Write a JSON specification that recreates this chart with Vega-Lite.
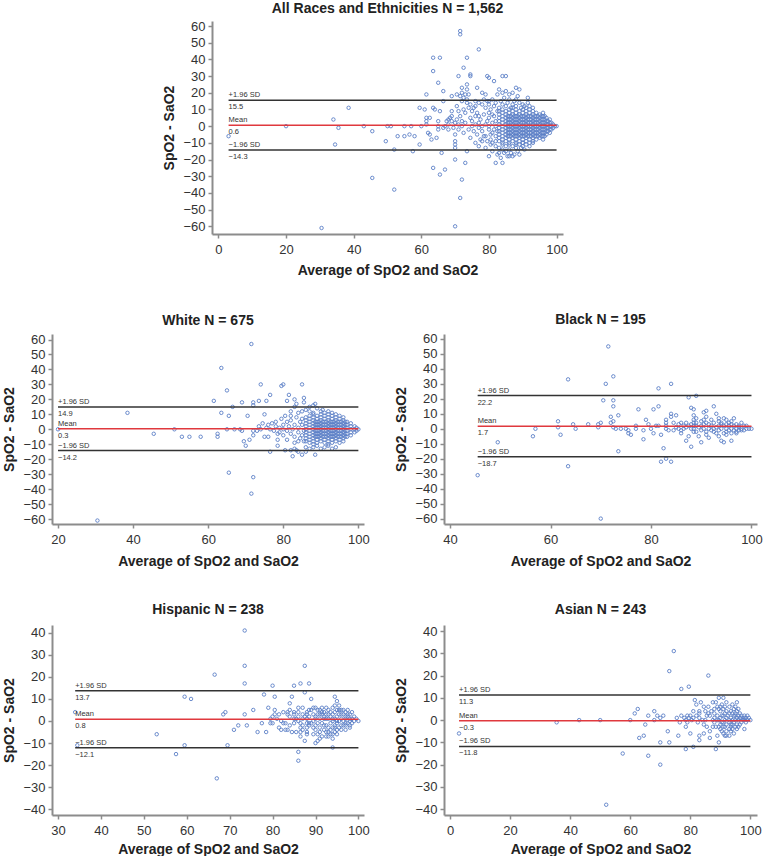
{
"$schema":"https://vega.github.io/schema/vega-lite/v6.json",
"padding":{"left":2,"right":0,"top":2,"bottom":0},
"spacing":35,
"config":{
 "font":"Liberation Sans",
 "view":{"stroke":null},
 "axis":{"grid":false,"domainColor":"#8c8c8c","domainWidth":2,"tickColor":"#8c8c8c","tickWidth":1.5,"tickSize":4,"labelFontSize":13,"labelColor":"#333333","labelPadding":3,"titleFontSize":14,"titleFontWeight":"bold","titleColor":"#222222"},
 "axisX":{"titlePadding":5,"labelPadding":5},
 "axisY":{"titlePadding":6},
 "title":{"fontSize":14,"fontWeight":"bold","color":"#222222","offset":6}
},
"datasets":{
"s_all":[{"t":"sd","lab":"+1.96 SD","x":3,"x1":100,"y":15.5},{"t":"mean","lab":"Mean","x":3,"x1":100,"y":0.6},{"t":"sd","lab":"−1.96 SD","x":3,"x1":100,"y":-14.3}],
"s_white":[{"t":"sd","lab":"+1.96 SD","x":20,"x1":100,"y":14.9},{"t":"mean","lab":"Mean","x":20,"x1":100,"y":0.3},{"t":"sd","lab":"−1.96 SD","x":20,"x1":100,"y":-14.2}],
"s_black":[{"t":"sd","lab":"+1.96 SD","x":45.5,"x1":100,"y":22.2},{"t":"mean","lab":"Mean","x":45.5,"x1":100,"y":1.7},{"t":"sd","lab":"−1.96 SD","x":45.5,"x1":100,"y":-18.7}],
"s_hisp":[{"t":"sd","lab":"+1.96 SD","x":34,"x1":100,"y":13.7},{"t":"mean","lab":"Mean","x":34,"x1":100,"y":0.8},{"t":"sd","lab":"−1.96 SD","x":34,"x1":100,"y":-12.1}],
"s_asian":[{"t":"sd","lab":"+1.96 SD","x":3,"x1":100,"y":11.3},{"t":"mean","lab":"Mean","x":3,"x1":100,"y":-0.3},{"t":"sd","lab":"−1.96 SD","x":3,"x1":100,"y":-11.8}],
"all":[
{"x":3,"y":-6},{"x":20,"y":0},{"x":30.5,"y":-61},{"x":34,"y":4},{"x":34.5,"y":-11},{"x":35.5,"y":-1},{"x":38.5,"y":11},{"x":43,"y":0},{"x":45.5,"y":-3},{"x":45.5,"y":-31},{"x":49.5,"y":-9},{"x":50,"y":0},{"x":51,"y":0},{"x":52,"y":-14},{"x":52,"y":-38},{"x":53,"y":-6},{"x":55,"y":0},{"x":55,"y":-6},{"x":56.5,"y":-5},{"x":57,"y":0},{"x":57.5,"y":-15},{"x":58,"y":-6},{"x":59.5,"y":11},{"x":59.5,"y":-11},{"x":60,"y":0},{"x":61,"y":10},{"x":61.5,"y":19},{"x":61.5,"y":5},{"x":61.5,"y":3},{"x":61.5,"y":1},{"x":62.5,"y":5},{"x":62,"y":-4},{"x":62.5,"y":-5},{"x":63,"y":-8},{"x":63.5,"y":41},{"x":63.5,"y":33},{"x":63.5,"y":11},{"x":64,"y":10},{"x":63.5,"y":-25},{"x":65,"y":26},{"x":65.5,"y":41},{"x":65.5,"y":9},{"x":65,"y":3},{"x":65,"y":0},{"x":65,"y":-2},{"x":64.5,"y":-7},{"x":65.5,"y":-29},{"x":66,"y":-16},{"x":66.5,"y":21},{"x":66.5,"y":15},{"x":67,"y":-26},{"x":69,"y":18},{"x":70.5,"y":19},{"x":71,"y":30},{"x":70,"y":-9},{"x":70,"y":-11},{"x":70,"y":-13},{"x":70,"y":-20},{"x":70,"y":-60},{"x":71.5,"y":57},{"x":71.5,"y":55},{"x":71.5,"y":-43},{"x":72,"y":-32},{"x":72.5,"y":35},{"x":73,"y":-22},{"x":73.5,"y":41},{"x":73.5,"y":-15},{"x":74.5,"y":30},{"x":74.5,"y":31},{"x":77,"y":46},{"x":76.5,"y":23},{"x":80,"y":29},{"x":79.5,"y":30},{"x":80,"y":-18},{"x":81.5,"y":27},{"x":84,"y":30},{"x":85,"y":30},{"x":82,"y":-22},{"x":84,"y":-22},{"x":86,"y":-18},{"x":88,"y":23},{"x":89,"y":22},{"x":91.5,"y":17},{"x":89,"y":-17},
{"x":67,"y":0},{"x":67.5,"y":3},{"x":68,"y":1},{"x":68.5,"y":5},{"x":69,"y":3},{"x":69,"y":6},{"x":69.5,"y":-1},{"x":70,"y":2},{"x":70.5,"y":4},{"x":71,"y":-2},{"x":71,"y":1},{"x":71.5,"y":6},{"x":72,"y":0},{"x":72,"y":3},{"x":68,"y":-2},{"x":66.5,"y":-1},{"x":70,"y":-5},{"x":72.5,"y":-4},{"x":73,"y":2},{"x":73,"y":8},{"x":72.5,"y":10},{"x":73.5,"y":14},{"x":72.5,"y":17},{"x":73,"y":19},{"x":73.5,"y":16},{"x":74,"y":11},{"x":74.5,"y":5},{"x":74,"y":-2},{"x":74.5,"y":-7},{"x":75,"y":0},{"x":75,"y":3},{"x":75.5,"y":-3},{"x":76,"y":1},{"x":76,"y":6},{"x":76.5,"y":-5},{"x":77,"y":2},{"x":77,"y":-1},{"x":77.5,"y":4},{"x":78,"y":0},{"x":78,"y":-3},{"x":78.5,"y":7},{"x":79,"y":1},{"x":79,"y":-6},{"x":79.5,"y":3},{"x":80,"y":0},{"x":80,"y":5},{"x":80,"y":-2},{"x":80.5,"y":-8},{"x":81,"y":2},{"x":81,"y":-4},{"x":81.5,"y":6},{"x":82,"y":0},{"x":82,"y":-6},{"x":82,"y":3},{"x":82.5,"y":9},{"x":76,"y":-10},{"x":77,"y":-12},{"x":78,"y":-9},{"x":79,"y":-13},{"x":80.5,"y":-11},{"x":81,"y":-15},{"x":82,"y":-12},{"x":82.5,"y":-17},{"x":83,"y":-13},{"x":83.5,"y":-19},{"x":84,"y":-14},{"x":84.5,"y":-16},{"x":85,"y":-12},{"x":85.5,"y":-18},{"x":86,"y":-14},{"x":86.5,"y":-16},{"x":87,"y":-12},{"x":87.5,"y":-17},{"x":88,"y":-13},{"x":88.5,"y":-15},{"x":89,"y":-11},{"x":89.5,"y":-13},{"x":90,"y":-12},{"x":90.5,"y":-14},{"x":91,"y":-11},{"x":92,"y":-12},{"x":93,"y":-10},{"x":84,"y":-11},{"x":86,"y":-11},{"x":88,"y":-11},{"x":90,"y":-10},{"x":87,"y":-18},{"x":85,"y":-15},{"x":83,"y":-16},
{"x":75,"y":9},{"x":76,"y":12},{"x":77,"y":14},{"x":78,"y":13},{"x":78.5,"y":16},{"x":79,"y":11},{"x":79.5,"y":15},{"x":80,"y":13},{"x":80.5,"y":10},{"x":81,"y":16},{"x":81.5,"y":12},{"x":82,"y":14},{"x":82.5,"y":19},{"x":83,"y":11},{"x":83.5,"y":15},{"x":84,"y":13},{"x":84.5,"y":17},{"x":85,"y":12},{"x":85.5,"y":14},{"x":86,"y":16},{"x":86.5,"y":11},{"x":87,"y":13},{"x":87.5,"y":15},{"x":88,"y":12},{"x":88.5,"y":18},{"x":89,"y":14},{"x":89.5,"y":11},{"x":90,"y":13},{"x":90.5,"y":12},{"x":91,"y":11},{"x":91.5,"y":14},{"x":92,"y":12},{"x":93,"y":11},{"x":87,"y":20},{"x":86,"y":19},{"x":85,"y":21},{"x":84,"y":20},{"x":88,"y":16},{"x":79,"y":19},{"x":78,"y":20},{"x":83,"y":22},{"x":80,"y":15},{"x":74,"y":19},{"x":74.5,"y":13},{"x":73.5,"y":22},{"x":72,"y":15},{"x":71,"y":9},{"x":70.5,"y":12},{"x":69,"y":9},{"x":68,"y":4},{"x":72,"y":20},{"x":72,"y":23},{"x":71.5,"y":18},{"x":73.5,"y":25},{"x":76,"y":15},{"x":75.5,"y":11},{"x":80,"y":8},{"x":80.5,"y":-5},{"x":81,"y":7},{"x":81.5,"y":-2},{"x":82,"y":-9},{"x":82.5,"y":-3},{"x":81,"y":-10},{"x":79.5,"y":-9},{"x":78.5,"y":-6},{"x":77.5,"y":-8},{"x":76.5,"y":8},{"x":77,"y":6},
{"x":83,"y":-9},{"x":83,"y":-7},{"x":83,"y":-5},{"x":83,"y":-3},{"x":83,"y":-1},{"x":83,"y":1},{"x":83,"y":3},{"x":83,"y":5},{"x":83,"y":7},{"x":83,"y":9},
{"x":84,"y":-10},{"x":84,"y":-8},{"x":84,"y":-6},{"x":84,"y":-4},{"x":84,"y":-2},{"x":84,"y":0},{"x":84,"y":2},{"x":84,"y":4},{"x":84,"y":6},{"x":84,"y":8},{"x":84,"y":10},
{"x":85,"y":-9},{"x":85,"y":-7},{"x":85,"y":-5},{"x":85,"y":-3},{"x":85,"y":-1},{"x":85,"y":1},{"x":85,"y":3},{"x":85,"y":5},{"x":85,"y":7},{"x":85,"y":9},
{"x":86,"y":-10},{"x":86,"y":-8},{"x":86,"y":-6},{"x":86,"y":-4},{"x":86,"y":-2},{"x":86,"y":0},{"x":86,"y":2},{"x":86,"y":4},{"x":86,"y":6},{"x":86,"y":8},{"x":86,"y":10},
{"x":87,"y":-9},{"x":87,"y":-7},{"x":87,"y":-5},{"x":87,"y":-3},{"x":87,"y":-1},{"x":87,"y":1},{"x":87,"y":3},{"x":87,"y":5},{"x":87,"y":7},{"x":87,"y":9},{"x":87,"y":11},
{"x":88,"y":-10},{"x":88,"y":-8},{"x":88,"y":-6},{"x":88,"y":-4},{"x":88,"y":-2},{"x":88,"y":0},{"x":88,"y":2},{"x":88,"y":4},{"x":88,"y":6},{"x":88,"y":8},{"x":88,"y":10},
{"x":89,"y":-9},{"x":89,"y":-7},{"x":89,"y":-5},{"x":89,"y":-3},{"x":89,"y":-1},{"x":89,"y":1},{"x":89,"y":3},{"x":89,"y":5},{"x":89,"y":7},{"x":89,"y":9},
{"x":90,"y":-10},{"x":90,"y":-8},{"x":90,"y":-6},{"x":90,"y":-4},{"x":90,"y":-2},{"x":90,"y":0},{"x":90,"y":2},{"x":90,"y":4},{"x":90,"y":6},{"x":90,"y":8},{"x":90,"y":10},
{"x":91,"y":-9},{"x":91,"y":-7},{"x":91,"y":-5},{"x":91,"y":-3},{"x":91,"y":-1},{"x":91,"y":1},{"x":91,"y":3},{"x":91,"y":5},{"x":91,"y":7},{"x":91,"y":9},
{"x":92,"y":-10},{"x":92,"y":-8},{"x":92,"y":-6},{"x":92,"y":-4},{"x":92,"y":-2},{"x":92,"y":0},{"x":92,"y":2},{"x":92,"y":4},{"x":92,"y":6},{"x":92,"y":8},{"x":92,"y":10},
{"x":93,"y":-9},{"x":93,"y":-7},{"x":93,"y":-5},{"x":93,"y":-3},{"x":93,"y":-1},{"x":93,"y":1},{"x":93,"y":3},{"x":93,"y":5},{"x":93,"y":7},{"x":93,"y":9},
{"x":94,"y":-8},{"x":94,"y":-6},{"x":94,"y":-4},{"x":94,"y":-2},{"x":94,"y":0},{"x":94,"y":2},{"x":94,"y":4},{"x":94,"y":6},{"x":94,"y":8},
{"x":95,"y":-7},{"x":95,"y":-5},{"x":95,"y":-3},{"x":95,"y":-1},{"x":95,"y":1},{"x":95,"y":3},{"x":95,"y":5},{"x":95,"y":7},
{"x":96,"y":-8},{"x":96,"y":-6},{"x":96,"y":-4},{"x":96,"y":-2},{"x":96,"y":0},{"x":96,"y":2},{"x":96,"y":4},{"x":96,"y":6},{"x":96,"y":8},
{"x":97,"y":-5},{"x":97,"y":-3},{"x":97,"y":-1},{"x":97,"y":1},{"x":97,"y":3},{"x":97,"y":5},
{"x":98,"y":-4},{"x":98,"y":-2},{"x":98,"y":0},{"x":98,"y":2},{"x":98,"y":4},
{"x":99,"y":-1},{"x":99,"y":1},{"x":99.5,"y":0},{"x":100,"y":0},
{"x":85.5,"y":-6},{"x":85.5,"y":-4},{"x":85.5,"y":-2},{"x":85.5,"y":0},{"x":85.5,"y":2},{"x":85.5,"y":4},{"x":85.5,"y":6},
{"x":86.5,"y":-6},{"x":86.5,"y":-4},{"x":86.5,"y":-2},{"x":86.5,"y":0},{"x":86.5,"y":2},{"x":86.5,"y":4},{"x":86.5,"y":6},
{"x":87.5,"y":-6},{"x":87.5,"y":-4},{"x":87.5,"y":-2},{"x":87.5,"y":0},{"x":87.5,"y":2},{"x":87.5,"y":4},{"x":87.5,"y":6},
{"x":88.5,"y":-6},{"x":88.5,"y":-4},{"x":88.5,"y":-2},{"x":88.5,"y":0},{"x":88.5,"y":2},{"x":88.5,"y":4},{"x":88.5,"y":6},
{"x":89.5,"y":-6},{"x":89.5,"y":-4},{"x":89.5,"y":-2},{"x":89.5,"y":0},{"x":89.5,"y":2},{"x":89.5,"y":4},{"x":89.5,"y":6},
{"x":90.5,"y":-6},{"x":90.5,"y":-4},{"x":90.5,"y":-2},{"x":90.5,"y":0},{"x":90.5,"y":2},{"x":90.5,"y":4},{"x":90.5,"y":6},
{"x":91.5,"y":-6},{"x":91.5,"y":-4},{"x":91.5,"y":-2},{"x":91.5,"y":0},{"x":91.5,"y":2},{"x":91.5,"y":4},{"x":91.5,"y":6},
{"x":92.5,"y":-6},{"x":92.5,"y":-4},{"x":92.5,"y":-2},{"x":92.5,"y":0},{"x":92.5,"y":2},{"x":92.5,"y":4},{"x":92.5,"y":6},
{"x":93.5,"y":-6},{"x":93.5,"y":-4},{"x":93.5,"y":-2},{"x":93.5,"y":0},{"x":93.5,"y":2},{"x":93.5,"y":4},{"x":93.5,"y":6},
{"x":94.5,"y":-6},{"x":94.5,"y":-4},{"x":94.5,"y":-2},{"x":94.5,"y":0},{"x":94.5,"y":2},{"x":94.5,"y":4},{"x":94.5,"y":6},
{"x":95.5,"y":-6},{"x":95.5,"y":-4},{"x":95.5,"y":-2},{"x":95.5,"y":0},{"x":95.5,"y":2},{"x":95.5,"y":4},{"x":95.5,"y":6},
{"x":96.5,"y":-6},{"x":96.5,"y":-4},{"x":96.5,"y":-2},{"x":96.5,"y":0},{"x":96.5,"y":2},{"x":96.5,"y":4},{"x":96.5,"y":6},
{"x":97.5,"y":-3},{"x":97.5,"y":-1},{"x":97.5,"y":1},{"x":97.5,"y":3},{"x":98.5,"y":-2},{"x":98.5,"y":0},{"x":98.5,"y":2}
],
"white":[
{"x":20,"y":0},{"x":30.5,"y":-61},{"x":38.5,"y":11},{"x":45.5,"y":-3},{"x":51,"y":0},{"x":53,"y":-5},{"x":55,"y":-5},{"x":58,"y":-5},{"x":61.5,"y":19},{"x":62.5,"y":-3},{"x":62.5,"y":-5},{"x":63.5,"y":41},{"x":63.5,"y":11},{"x":65,"y":26},{"x":65,"y":0},{"x":65.5,"y":9},{"x":65.5,"y":-29},{"x":66.5,"y":15},{"x":67,"y":0},{"x":69,"y":18},{"x":68.5,"y":0},{"x":69,"y":-1},{"x":69.5,"y":-8},{"x":70,"y":-11},{"x":71,"y":-7},{"x":70.5,"y":9},{"x":71.5,"y":57},{"x":71.5,"y":-43},{"x":72,"y":-32},{"x":72,"y":16},{"x":72,"y":18},{"x":72,"y":-1},{"x":72,"y":-4},{"x":74,"y":30},{"x":73.5,"y":19},{"x":75,"y":10},{"x":75.5,"y":19},{"x":76.5,"y":23},{"x":76.5,"y":-15},{"x":78.5,"y":-7},{"x":78.5,"y":-11},{"x":79.5,"y":29},{"x":80,"y":30},{"x":85,"y":30},{"x":85,"y":-17},{"x":82.5,"y":-18},{"x":81.5,"y":23},{"x":81,"y":19},{"x":83,"y":20},{"x":83.5,"y":17},{"x":85.5,"y":21},{"x":85.5,"y":18},{"x":88.5,"y":17},{"x":88.5,"y":-17},{"x":90.5,"y":13},{"x":80.5,"y":-14},{"x":83.5,"y":-14},
{"x":73,"y":-1},{"x":73.5,"y":2},{"x":74,"y":0},{"x":74.5,"y":4},{"x":75,"y":-5},{"x":75.5,"y":1},{"x":76,"y":3},{"x":76,"y":-5},{"x":76.5,"y":0},{"x":77,"y":4},{"x":77.5,"y":-1},{"x":78,"y":2},{"x":78,"y":5},{"x":78.5,"y":-3},{"x":79,"y":1},{"x":79,"y":-2},{"x":79.5,"y":7},{"x":80,"y":0},{"x":80,"y":3},{"x":80,"y":-4},{"x":80.5,"y":9},{"x":81,"y":5},{"x":81,"y":-1},{"x":81.5,"y":2},{"x":82,"y":-3},{"x":82,"y":6},{"x":82.5,"y":0},{"x":83,"y":3},{"x":83,"y":-5},{"x":83.5,"y":8},{"x":84,"y":1},{"x":84,"y":-2},{"x":84.5,"y":5},{"x":85,"y":-4},{"x":85,"y":12},{"x":85.5,"y":-1},{"x":82,"y":12},{"x":83,"y":15},{"x":84,"y":11},{"x":86,"y":13},{"x":87,"y":12},{"x":88,"y":11},{"x":89,"y":14},{"x":86,"y":-12},{"x":87,"y":-13},{"x":88,"y":-12},{"x":89,"y":-11},{"x":90,"y":-13},{"x":91,"y":-12},{"x":92,"y":-11},{"x":93,"y":-13},{"x":94,"y":-12},{"x":90,"y":12},{"x":91,"y":11},{"x":92,"y":12},{"x":93,"y":11},{"x":94,"y":10},{"x":87,"y":15},{"x":88,"y":16},{"x":86,"y":-15},{"x":84,"y":-15},{"x":83,"y":-13},{"x":82,"y":-14},{"x":84,"y":-8},{"x":84.5,"y":-6},{"x":85,"y":7},{"x":85,"y":3},{"x":85.5,"y":-8},{"x":83,"y":-9},{"x":82,"y":9},{"x":81,"y":-7},
{"x":86,"y":-8},{"x":86,"y":-6},{"x":86,"y":-4},{"x":86,"y":-2},{"x":86,"y":0},{"x":86,"y":2},{"x":86,"y":4},{"x":86,"y":6},{"x":86,"y":8},
{"x":87,"y":-9},{"x":87,"y":-7},{"x":87,"y":-5},{"x":87,"y":-3},{"x":87,"y":-1},{"x":87,"y":1},{"x":87,"y":3},{"x":87,"y":5},{"x":87,"y":7},{"x":87,"y":9},
{"x":88,"y":-10},{"x":88,"y":-8},{"x":88,"y":-6},{"x":88,"y":-4},{"x":88,"y":-2},{"x":88,"y":0},{"x":88,"y":2},{"x":88,"y":4},{"x":88,"y":6},{"x":88,"y":8},{"x":88,"y":10},
{"x":89,"y":-9},{"x":89,"y":-7},{"x":89,"y":-5},{"x":89,"y":-3},{"x":89,"y":-1},{"x":89,"y":1},{"x":89,"y":3},{"x":89,"y":5},{"x":89,"y":7},{"x":89,"y":9},
{"x":90,"y":-8},{"x":90,"y":-6},{"x":90,"y":-4},{"x":90,"y":-2},{"x":90,"y":0},{"x":90,"y":2},{"x":90,"y":4},{"x":90,"y":6},{"x":90,"y":8},{"x":90,"y":10},
{"x":91,"y":-9},{"x":91,"y":-7},{"x":91,"y":-5},{"x":91,"y":-3},{"x":91,"y":-1},{"x":91,"y":1},{"x":91,"y":3},{"x":91,"y":5},{"x":91,"y":7},{"x":91,"y":9},
{"x":92,"y":-10},{"x":92,"y":-8},{"x":92,"y":-6},{"x":92,"y":-4},{"x":92,"y":-2},{"x":92,"y":0},{"x":92,"y":2},{"x":92,"y":4},{"x":92,"y":6},{"x":92,"y":8},{"x":92,"y":10},
{"x":93,"y":-9},{"x":93,"y":-7},{"x":93,"y":-5},{"x":93,"y":-3},{"x":93,"y":-1},{"x":93,"y":1},{"x":93,"y":3},{"x":93,"y":5},{"x":93,"y":7},{"x":93,"y":9},
{"x":94,"y":-8},{"x":94,"y":-6},{"x":94,"y":-4},{"x":94,"y":-2},{"x":94,"y":0},{"x":94,"y":2},{"x":94,"y":4},{"x":94,"y":6},{"x":94,"y":8},
{"x":95,"y":-9},{"x":95,"y":-7},{"x":95,"y":-5},{"x":95,"y":-3},{"x":95,"y":-1},{"x":95,"y":1},{"x":95,"y":3},{"x":95,"y":5},{"x":95,"y":7},{"x":95,"y":9},
{"x":96,"y":-8},{"x":96,"y":-6},{"x":96,"y":-4},{"x":96,"y":-2},{"x":96,"y":0},{"x":96,"y":2},{"x":96,"y":4},{"x":96,"y":6},{"x":96,"y":8},
{"x":97,"y":-5},{"x":97,"y":-3},{"x":97,"y":-1},{"x":97,"y":1},{"x":97,"y":3},{"x":97,"y":5},
{"x":98,"y":-4},{"x":98,"y":-2},{"x":98,"y":0},{"x":98,"y":2},{"x":98,"y":4},
{"x":99,"y":-2},{"x":99,"y":0},{"x":99,"y":2},{"x":99.5,"y":-1},{"x":99.5,"y":1},{"x":100,"y":0},
{"x":88.5,"y":-5},{"x":88.5,"y":-3},{"x":88.5,"y":-1},{"x":88.5,"y":1},{"x":88.5,"y":3},{"x":88.5,"y":5},
{"x":89.5,"y":-5},{"x":89.5,"y":-3},{"x":89.5,"y":-1},{"x":89.5,"y":1},{"x":89.5,"y":3},{"x":89.5,"y":5},
{"x":90.5,"y":-5},{"x":90.5,"y":-3},{"x":90.5,"y":-1},{"x":90.5,"y":1},{"x":90.5,"y":3},{"x":90.5,"y":5},
{"x":91.5,"y":-5},{"x":91.5,"y":-3},{"x":91.5,"y":-1},{"x":91.5,"y":1},{"x":91.5,"y":3},{"x":91.5,"y":5},
{"x":92.5,"y":-5},{"x":92.5,"y":-3},{"x":92.5,"y":-1},{"x":92.5,"y":1},{"x":92.5,"y":3},{"x":92.5,"y":5},
{"x":93.5,"y":-5},{"x":93.5,"y":-3},{"x":93.5,"y":-1},{"x":93.5,"y":1},{"x":93.5,"y":3},{"x":93.5,"y":5},
{"x":94.5,"y":-5},{"x":94.5,"y":-3},{"x":94.5,"y":-1},{"x":94.5,"y":1},{"x":94.5,"y":3},{"x":94.5,"y":5},
{"x":95.5,"y":-5},{"x":95.5,"y":-3},{"x":95.5,"y":-1},{"x":95.5,"y":1},{"x":95.5,"y":3},{"x":95.5,"y":5},
{"x":96.5,"y":-5},{"x":96.5,"y":-3},{"x":96.5,"y":-1},{"x":96.5,"y":1},{"x":96.5,"y":3},{"x":96.5,"y":5}
],
"black":[
{"x":45.5,"y":-31},{"x":49.5,"y":-9},{"x":56.5,"y":-5},{"x":57,"y":0},{"x":61.5,"y":5},{"x":61.5,"y":1},{"x":62,"y":-4},{"x":63.5,"y":33},{"x":63.5,"y":-25},{"x":64.5,"y":3},{"x":65,"y":0},{"x":67.5,"y":3},{"x":69.5,"y":1},{"x":69.5,"y":3},{"x":70,"y":4},{"x":70,"y":-60},{"x":70.5,"y":19},{"x":71,"y":30},{"x":71.5,"y":55},{"x":72,"y":8},{"x":72,"y":4},{"x":72.5,"y":35},{"x":72.5,"y":19},{"x":72.5,"y":15},{"x":72.5,"y":5},{"x":72.5,"y":1},{"x":73,"y":0},{"x":73.5,"y":9},{"x":73.5,"y":-15},{"x":74,"y":0},{"x":75,"y":0},{"x":75.5,"y":-1},{"x":75.5,"y":-3},{"x":76,"y":-4},{"x":77,"y":2},{"x":77,"y":0},{"x":77.5,"y":13},{"x":78.5,"y":-7},{"x":78.5,"y":-1},{"x":79,"y":6},{"x":79.5,"y":3},{"x":80,"y":0},{"x":80.5,"y":13},{"x":80.5,"y":-3},{"x":81,"y":2},{"x":81.5,"y":27},{"x":81.5,"y":15},{"x":81.5,"y":2},{"x":82,"y":-4},{"x":82,"y":-22},{"x":82.5,"y":-13},{"x":83,"y":6},{"x":83,"y":4},{"x":83,"y":2},{"x":83,"y":0},{"x":83,"y":-20},{"x":83.5,"y":-1},{"x":84,"y":30},{"x":84,"y":10},{"x":84,"y":8},{"x":84,"y":-22},{"x":84.5,"y":4},{"x":84.5,"y":-1},{"x":85,"y":9},{"x":85.5,"y":0},{"x":86,"y":4},{"x":86.5,"y":2},{"x":86.5,"y":0},{"x":87,"y":4},{"x":87,"y":-8},{"x":87.5,"y":21},{"x":87.5,"y":-5},{"x":88,"y":14},{"x":88,"y":0},{"x":88,"y":-12},{"x":88.5,"y":13},{"x":88.5,"y":9},{"x":88.5,"y":6},{"x":88.5,"y":4},{"x":88.5,"y":2},{"x":88.5,"y":0},{"x":88.5,"y":-2},{"x":89,"y":22},{"x":89,"y":7},{"x":89,"y":4},{"x":89,"y":2},{"x":89.5,"y":-5},{"x":90,"y":-9},{"x":90,"y":2},{"x":90.5,"y":11},{"x":90.5,"y":6},{"x":90.5,"y":3},{"x":90.5,"y":0},{"x":91,"y":12},{"x":91,"y":8},{"x":91,"y":4},{"x":91,"y":-2},{"x":91,"y":-4},{"x":91.5,"y":0},{"x":92,"y":2},{"x":92.5,"y":15},{"x":92.5,"y":4},{"x":92.5,"y":0},{"x":92.5,"y":-2},{"x":93,"y":10},{"x":93.5,"y":5},{"x":93.5,"y":2},{"x":93.5,"y":-1},{"x":93.5,"y":-5},{"x":94,"y":3},{"x":94,"y":0},{"x":94,"y":-8},{"x":94.5,"y":7},{"x":94.5,"y":2},{"x":94.5,"y":-3},{"x":94.5,"y":-9},{"x":95,"y":6},{"x":95,"y":3},{"x":95,"y":0},{"x":95,"y":-4},{"x":95.5,"y":4},{"x":95.5,"y":2},{"x":95.5,"y":-1},{"x":96,"y":3},{"x":96,"y":0},{"x":96,"y":-3},{"x":96,"y":-8},{"x":96.5,"y":7},{"x":96.5,"y":2},{"x":96.5,"y":-1},{"x":97,"y":3},{"x":97,"y":0},{"x":97,"y":-3},{"x":97.5,"y":2},{"x":97.5,"y":-1},{"x":98,"y":4},{"x":98,"y":0},{"x":98.5,"y":2},{"x":98.5,"y":-1},{"x":99,"y":2},{"x":99,"y":0},{"x":99.5,"y":0},{"x":100,"y":0},
{"x":85,"y":1},{"x":86,"y":-1},{"x":87,"y":1},{"x":89.5,"y":1},{"x":90,"y":-1},{"x":91.5,"y":3},{"x":92,"y":-1},{"x":93,"y":1},{"x":93,"y":-3},{"x":96,"y":5},{"x":97,"y":-2},{"x":98,"y":-1},{"x":85.5,"y":3},{"x":86,"y":-3},{"x":87.5,"y":2},{"x":89,"y":-2},{"x":90,"y":5},{"x":92,"y":6},{"x":94,"y":4},{"x":95,"y":-2},{"x":91.5,"y":-6},{"x":93.5,"y":7},{"x":88,"y":3},{"x":97.5,"y":1}
],
"hisp":[
{"x":34,"y":4},{"x":34.5,"y":-11},{"x":53,"y":-6},{"x":57.5,"y":-15},{"x":59.5,"y":11},{"x":59.5,"y":-11},{"x":61,"y":10},{"x":66.5,"y":21},{"x":67,"y":-26},{"x":68.5,"y":3},{"x":69,"y":4},{"x":69.5,"y":-11},{"x":71,"y":-4},{"x":72,"y":-2},{"x":73.5,"y":41},{"x":73.5,"y":25},{"x":73.5,"y":17},{"x":73.5,"y":3},{"x":74,"y":-2},{"x":75.5,"y":5},{"x":76.5,"y":-5},{"x":77.5,"y":-1},{"x":78,"y":12},{"x":78.5,"y":-5},{"x":79,"y":6},{"x":79.5,"y":1},{"x":79.5,"y":-1},{"x":80,"y":16},{"x":80,"y":-1},{"x":80.5,"y":11},{"x":80.5,"y":5},{"x":80.5,"y":3},{"x":81.5,"y":3},{"x":81.5,"y":-3},{"x":82,"y":-4},{"x":82.5,"y":-1},{"x":83,"y":-4},{"x":83.5,"y":4},{"x":83.5,"y":3},{"x":84,"y":8},{"x":84,"y":5},{"x":84.5,"y":11},{"x":84.5,"y":-5},{"x":85,"y":16},{"x":85,"y":4},{"x":85,"y":1},{"x":85,"y":-1},{"x":85.5,"y":-5},{"x":86,"y":-14},{"x":86,"y":-18},{"x":86,"y":6},{"x":86,"y":2},{"x":86,"y":0},{"x":86.5,"y":17},{"x":86.5,"y":-3},{"x":86.5,"y":-5},{"x":86.5,"y":-7},{"x":87,"y":6},{"x":87,"y":3},{"x":87,"y":1},{"x":87,"y":-2},{"x":87.5,"y":25},{"x":87.5,"y":13},{"x":87.5,"y":-9},{"x":88,"y":4},{"x":88,"y":1},{"x":88,"y":-1},{"x":88,"y":-3},{"x":88,"y":-6},{"x":88.5,"y":17},{"x":88.5,"y":5},{"x":88.5,"y":2},{"x":88.5,"y":-2},{"x":89,"y":10},{"x":89.5,"y":3},{"x":89.5,"y":0},{"x":89.5,"y":-3},{"x":90,"y":6},{"x":90,"y":1},{"x":90,"y":-4},{"x":90,"y":-10},{"x":90.5,"y":3},{"x":90.5,"y":-1},{"x":90.5,"y":-9},{"x":91,"y":5},{"x":91,"y":1},{"x":91,"y":-3},{"x":91.5,"y":6},{"x":91.5,"y":3},{"x":91.5,"y":-1},{"x":91.5,"y":-7},{"x":92,"y":4},{"x":92,"y":1},{"x":92,"y":-4},{"x":92.5,"y":6},{"x":92.5,"y":3},{"x":92.5,"y":-2},{"x":92.5,"y":-7},{"x":93,"y":5},{"x":93,"y":1},{"x":93,"y":-3},{"x":93.5,"y":4},{"x":93.5,"y":2},{"x":93.5,"y":-1},{"x":93.5,"y":-4},{"x":94,"y":6},{"x":94,"y":3},{"x":94,"y":0},{"x":94,"y":-3},{"x":94,"y":-12},{"x":94.5,"y":11},{"x":94.5,"y":7},{"x":94.5,"y":4},{"x":94.5,"y":1},{"x":94.5,"y":-2},{"x":94.5,"y":-5},{"x":95,"y":9},{"x":95,"y":5},{"x":95,"y":2},{"x":95,"y":-1},{"x":95,"y":-4},{"x":95.5,"y":7},{"x":95.5,"y":3},{"x":95.5,"y":0},{"x":95.5,"y":-3},{"x":96,"y":5},{"x":96,"y":1},{"x":96,"y":-2},{"x":96.5,"y":5},{"x":96.5,"y":3},{"x":96.5,"y":0},{"x":97,"y":4},{"x":97,"y":1},{"x":97,"y":-2},{"x":97,"y":-4},{"x":97.5,"y":5},{"x":97.5,"y":2},{"x":97.5,"y":-1},{"x":98,"y":3},{"x":98,"y":0},{"x":98,"y":-3},{"x":98.5,"y":4},{"x":98.5,"y":1},{"x":98.5,"y":-1},{"x":99,"y":2},{"x":99,"y":0},{"x":99.5,"y":1},{"x":100,"y":0},
{"x":86,"y":4},{"x":87,"y":-4},{"x":88,"y":3},{"x":88,"y":-5},{"x":89,"y":5},{"x":89,"y":-1},{"x":90,"y":2},{"x":90,"y":-2},{"x":91,"y":3},{"x":91,"y":-5},{"x":92,"y":2},{"x":92,"y":-2},{"x":93,"y":3},{"x":93,"y":-5},{"x":94,"y":1},{"x":94,"y":-6},{"x":95,"y":0},{"x":95,"y":-6},{"x":96,"y":3},{"x":96,"y":-4},{"x":97,"y":2},{"x":97,"y":-1},{"x":98,"y":1},{"x":98,"y":-2},{"x":89.5,"y":6},{"x":90.5,"y":5},{"x":91.5,"y":4},{"x":92.5,"y":1},{"x":93.5,"y":-6},{"x":94.5,"y":-3},{"x":95.5,"y":5},{"x":96.5,"y":-2},{"x":97.5,"y":3},{"x":82,"y":0},{"x":83,"y":-1},{"x":84,"y":2},{"x":84,"y":-2},{"x":85,"y":3},{"x":81,"y":1},{"x":80,"y":2},{"x":82.5,"y":4},{"x":83.5,"y":-4},{"x":85.5,"y":1},{"x":86.5,"y":-1},{"x":87.5,"y":2},{"x":88.5,"y":-1},{"x":89.5,"y":-6},{"x":90.5,"y":-6},{"x":92.5,"y":-5},{"x":91,"y":-8},{"x":93,"y":-7},{"x":94,"y":-8}
],
"asian":[
{"x":3,"y":-6},{"x":35.5,"y":-1},{"x":43,"y":0},{"x":50,"y":0},{"x":52,"y":-38},{"x":57.5,"y":-15},{"x":60,"y":0},{"x":61.5,"y":3},{"x":62.5,"y":5},{"x":63,"y":-8},{"x":64.5,"y":-7},{"x":65,"y":-2},{"x":66,"y":2},{"x":66,"y":-16},{"x":68,"y":4},{"x":68,"y":0},{"x":69,"y":2},{"x":70,"y":1},{"x":70,"y":-10},{"x":70,"y":-20},{"x":71,"y":2},{"x":72.5,"y":-5},{"x":73,"y":22},{"x":73,"y":-10},{"x":74.5,"y":31},{"x":75.5,"y":1},{"x":76,"y":-7},{"x":76.5,"y":-1},{"x":77,"y":14},{"x":77,"y":2},{"x":78,"y":1},{"x":78.5,"y":0},{"x":78.5,"y":-3},{"x":78.5,"y":-13},{"x":79.5,"y":15},{"x":79,"y":2},{"x":79.5,"y":1},{"x":80,"y":-6},{"x":80.5,"y":0},{"x":81,"y":1},{"x":81,"y":-12},{"x":81.5,"y":9},{"x":82,"y":7},{"x":82.5,"y":-1},{"x":83,"y":4},{"x":83,"y":3},{"x":83,"y":1},{"x":83,"y":-7},{"x":83,"y":-9},{"x":83.5,"y":8},{"x":84.5,"y":6},{"x":84.5,"y":-2},{"x":84.5,"y":-6},{"x":85,"y":4},{"x":85,"y":0},{"x":85.5,"y":-3},{"x":86,"y":6},{"x":86,"y":3},{"x":86,"y":20},{"x":86.5,"y":2},{"x":86.5,"y":-5},{"x":86.5,"y":-8},{"x":87.5,"y":8},{"x":87.5,"y":0},{"x":87.5,"y":-3},{"x":88,"y":5},{"x":88,"y":3},{"x":88,"y":-1},{"x":88.5,"y":8},{"x":88.5,"y":-3},{"x":88.5,"y":-13},{"x":89,"y":6},{"x":89,"y":2},{"x":89,"y":0},{"x":89,"y":-7},{"x":89.5,"y":10},{"x":89.5,"y":5},{"x":89.5,"y":0},{"x":89.5,"y":-3},{"x":89.5,"y":-10},{"x":90,"y":4},{"x":90,"y":1},{"x":90,"y":-2},{"x":90.5,"y":7},{"x":90.5,"y":2},{"x":90.5,"y":-1},{"x":90.5,"y":-5},{"x":91,"y":10},{"x":91,"y":5},{"x":91,"y":2},{"x":91,"y":-3},{"x":91,"y":-6},{"x":91.5,"y":6},{"x":91.5,"y":3},{"x":91.5,"y":0},{"x":91.5,"y":-3},{"x":91.5,"y":-7},{"x":92,"y":8},{"x":92,"y":4},{"x":92,"y":1},{"x":92,"y":-2},{"x":92,"y":-5},{"x":93,"y":6},{"x":93,"y":3},{"x":93,"y":-1},{"x":93,"y":-4},{"x":93,"y":-7},{"x":93.5,"y":4},{"x":93.5,"y":1},{"x":93.5,"y":-2},{"x":93.5,"y":-5},{"x":94,"y":7},{"x":94,"y":3},{"x":94,"y":0},{"x":94,"y":-4},{"x":94.5,"y":5},{"x":94.5,"y":2},{"x":94.5,"y":-1},{"x":94.5,"y":-6},{"x":95,"y":6},{"x":95,"y":3},{"x":95,"y":0},{"x":95,"y":-3},{"x":95.5,"y":8},{"x":95.5,"y":4},{"x":95.5,"y":1},{"x":95.5,"y":-2},{"x":96,"y":2},{"x":96,"y":0},{"x":96,"y":-3},{"x":96.5,"y":3},{"x":96.5,"y":1},{"x":96.5,"y":-2},{"x":97,"y":2},{"x":97,"y":-1},{"x":98,"y":2},{"x":98,"y":0},{"x":98,"y":-4},{"x":98.5,"y":1},{"x":98.5,"y":-1},{"x":99,"y":2},{"x":99,"y":0},{"x":99.5,"y":1},{"x":100,"y":0},
{"x":90,"y":6},{"x":92.5,"y":2},{"x":94,"y":-2},{"x":95,"y":2},{"x":96,"y":5},{"x":97.5,"y":0},{"x":93,"y":0},{"x":92,"y":-7},{"x":90,"y":-4},{"x":88,"y":1},{"x":87,"y":4},{"x":85.5,"y":2},{"x":84,"y":0},{"x":82,"y":2},{"x":81,"y":4},{"x":80,"y":2},{"x":79,"y":-1},{"x":91,"y":-1},{"x":93.5,"y":-3},{"x":95.5,"y":-4},{"x":97,"y":1},{"x":98,"y":1}
]
},
"vconcat":[
{"spacing":20,"hconcat":[
 {"width":90,"height":20,"data":{"values":[]},"mark":{"type":"point","opacity":0},"encoding":{}},
 {"title":{"text":"All Races and Ethnicities N = 1,562","offset":4},"width":351,"height":213,
  "encoding":{"x":{"field":"x","type":"quantitative","scale":{"domain":[-1.9,101.9],"nice":false,"zero":false},"axis":{"values":[0,20,40,60,80,100],"title":"Average of SpO2 and SaO2","titlePadding":7}},
   "y":{"field":"y","type":"quantitative","scale":{"domain":[-64.6,63],"nice":false,"zero":false},"axis":{"values":[-60,-50,-40,-30,-20,-10,0,10,20,30,40,50,60],"title":"SpO2 - SaO2"}}},
  "layer":[
   {"data":{"name":"all"},"mark":{"type":"point","shape":"circle","filled":false,"size":12,"strokeWidth":0.9,"color":"#5b7fc6","opacity":1}},
   {"data":{"name":"s_all"},"mark":{"type":"rule","strokeWidth":1.5},"encoding":{"x2":{"field":"x1"},"color":{"field":"t","type":"nominal","scale":{"domain":["sd","mean"],"range":["#333333","#e0393e"]},"legend":null}}},
   {"data":{"name":"s_all"},"mark":{"type":"text","align":"left","baseline":"alphabetic","dy":-3,"fontSize":7.5,"color":"#333333"},"encoding":{"text":{"field":"lab"}}},
   {"data":{"name":"s_all"},"mark":{"type":"text","align":"left","baseline":"top","dy":3,"fontSize":7.5,"color":"#333333"},"encoding":{"text":{"field":"y","type":"quantitative","format":".1f"}}}
  ]}
]},
{"spacing":24,"hconcat":[
 {"title":"White N = 675","width":312,"height":190,
  "encoding":{"x":{"field":"x","type":"quantitative","scale":{"domain":[18.4,101.5],"nice":false,"zero":false},"axis":{"values":[20,40,60,80,100],"title":"Average of SpO2 and SaO2","titlePadding":8}},
   "y":{"field":"y","type":"quantitative","scale":{"domain":[-63.3,63.7],"nice":false,"zero":false},"axis":{"values":[-60,-50,-40,-30,-20,-10,0,10,20,30,40,50,60],"title":"SpO2 - SaO2"}}},
  "layer":[
   {"data":{"name":"white"},"mark":{"type":"point","shape":"circle","filled":false,"size":12,"strokeWidth":0.9,"color":"#5b7fc6","opacity":1}},
   {"data":{"name":"s_white"},"mark":{"type":"rule","strokeWidth":1.5},"encoding":{"x2":{"field":"x1"},"color":{"field":"t","type":"nominal","scale":{"domain":["sd","mean"],"range":["#333333","#e0393e"]},"legend":null}}},
   {"data":{"name":"s_white"},"mark":{"type":"text","align":"left","baseline":"alphabetic","dy":-3,"fontSize":7.5,"color":"#333333"},"encoding":{"text":{"field":"lab"}}},
   {"data":{"name":"s_white"},"mark":{"type":"text","align":"left","baseline":"top","dy":3,"fontSize":7.5,"color":"#333333"},"encoding":{"text":{"field":"y","type":"quantitative","format":".1f"}}}
  ]},
 {"title":"Black N = 195","width":313,"height":190,
  "encoding":{"x":{"field":"x","type":"quantitative","scale":{"domain":[38.8,101.1],"nice":false,"zero":false},"axis":{"values":[40,60,80,100],"title":"Average of SpO2 and SaO2","titlePadding":8}},
   "y":{"field":"y","type":"quantitative","scale":{"domain":[-63.6,63.3],"nice":false,"zero":false},"axis":{"values":[-60,-50,-40,-30,-20,-10,0,10,20,30,40,50,60],"title":"SpO2 - SaO2"}}},
  "layer":[
   {"data":{"name":"black"},"mark":{"type":"point","shape":"circle","filled":false,"size":12,"strokeWidth":0.9,"color":"#5b7fc6","opacity":1}},
   {"data":{"name":"s_black"},"mark":{"type":"rule","strokeWidth":1.5},"encoding":{"x2":{"field":"x1"},"color":{"field":"t","type":"nominal","scale":{"domain":["sd","mean"],"range":["#333333","#e0393e"]},"legend":null}}},
   {"data":{"name":"s_black"},"mark":{"type":"text","align":"left","baseline":"alphabetic","dy":-3,"fontSize":7.5,"color":"#333333"},"encoding":{"text":{"field":"lab"}}},
   {"data":{"name":"s_black"},"mark":{"type":"text","align":"left","baseline":"top","dy":3,"fontSize":7.5,"color":"#333333"},"encoding":{"text":{"field":"y","type":"quantitative","format":".1f"}}}
  ]}
]},
{"spacing":24,"hconcat":[
 {"title":{"text":"Hispanic N = 238","offset":8},"width":312,"height":190,
  "encoding":{"x":{"field":"x","type":"quantitative","scale":{"domain":[28.6,101.3],"nice":false,"zero":false},"axis":{"values":[30,40,50,60,70,80,90,100],"title":"Average of SpO2 and SaO2"}},
   "y":{"field":"y","type":"quantitative","scale":{"domain":[-42.6,43.5],"nice":false,"zero":false},"axis":{"values":[-40,-30,-20,-10,0,10,20,30,40],"title":"SpO2 - SaO2"}}},
  "layer":[
   {"data":{"name":"hisp"},"mark":{"type":"point","shape":"circle","filled":false,"size":12,"strokeWidth":0.9,"color":"#5b7fc6","opacity":1}},
   {"data":{"name":"s_hisp"},"mark":{"type":"rule","strokeWidth":1.5},"encoding":{"x2":{"field":"x1"},"color":{"field":"t","type":"nominal","scale":{"domain":["sd","mean"],"range":["#333333","#e0393e"]},"legend":null}}},
   {"data":{"name":"s_hisp"},"mark":{"type":"text","align":"left","baseline":"alphabetic","dy":-3,"fontSize":7.5,"color":"#333333"},"encoding":{"text":{"field":"lab"}}},
   {"data":{"name":"s_hisp"},"mark":{"type":"text","align":"left","baseline":"top","dy":3,"fontSize":7.5,"color":"#333333"},"encoding":{"text":{"field":"y","type":"quantitative","format":".1f"}}}
  ]},
 {"title":{"text":"Asian N = 243","offset":8},"width":313,"height":190,
  "encoding":{"x":{"field":"x","type":"quantitative","scale":{"domain":[-2,102.2],"nice":false,"zero":false},"axis":{"values":[0,20,40,60,80,100],"title":"Average of SpO2 and SaO2"}},
   "y":{"field":"y","type":"quantitative","scale":{"domain":[-42.6,42.7],"nice":false,"zero":false},"axis":{"values":[-40,-30,-20,-10,0,10,20,30,40],"title":"SpO2 - SaO2"}}},
  "layer":[
   {"data":{"name":"asian"},"mark":{"type":"point","shape":"circle","filled":false,"size":12,"strokeWidth":0.9,"color":"#5b7fc6","opacity":1}},
   {"data":{"name":"s_asian"},"mark":{"type":"rule","strokeWidth":1.5},"encoding":{"x2":{"field":"x1"},"color":{"field":"t","type":"nominal","scale":{"domain":["sd","mean"],"range":["#333333","#e0393e"]},"legend":null}}},
   {"data":{"name":"s_asian"},"mark":{"type":"text","align":"left","baseline":"alphabetic","dy":-3,"fontSize":7.5,"color":"#333333"},"encoding":{"text":{"field":"lab"}}},
   {"data":{"name":"s_asian"},"mark":{"type":"text","align":"left","baseline":"top","dy":3,"fontSize":7.5,"color":"#333333"},"encoding":{"text":{"field":"y","type":"quantitative","format":".1f"}}}
  ]}
]}
]
}
